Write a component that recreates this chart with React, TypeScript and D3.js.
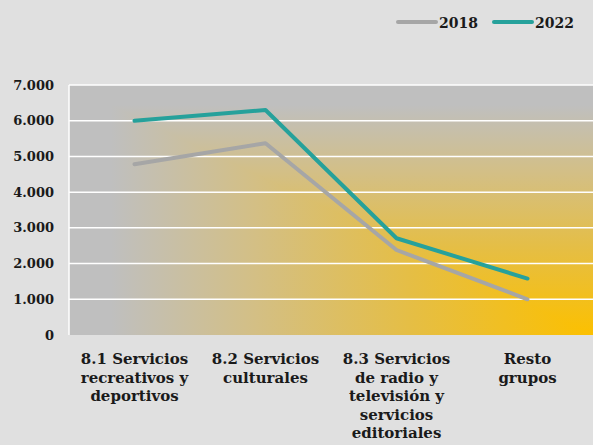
import React from "react";
import * as d3 from "d3";

const categories = [
  ["8.1 Servicios", "recreativos y", "deportivos"],
  ["8.2 Servicios", "culturales"],
  ["8.3 Servicios", "de radio y", "televisión y", "servicios", "editoriales"],
  ["Resto", "grupos"],
];
const series2018 = [4780, 5370, 2380, 1000];
const series2022 = [6000, 6300, 2710, 1580];
const yTicks = [0, 1000, 2000, 3000, 4000, 5000, 6000, 7000];

const W = 593;
const H = 445;
const plot = { left: 69, right: 593, top: 85, bottom: 335 };
const font = "'DejaVu Serif', serif";

const locale = d3.formatLocale({
  decimal: ",",
  thousands: ".",
  grouping: [3],
  currency: ["", "€"],
});
const fmt = locale.format(",d");

const stops = [
  { o: 0, c: "#fcc000" },
  { o: 0.35, c: "#e5be45" },
  { o: 0.65, c: "#d3bf86" },
  { o: 0.92, c: "#bfbfbf" },
  { o: 1, c: "#bfbfbf" },
];

const App = () => {
  const idx = categories.map((_, i) => i);
  const x = d3
    .scalePoint<number>()
    .domain(idx)
    .range([plot.left, plot.right])
    .padding(0.5);
  const y = d3.scaleLinear().domain([0, 7000]).range([plot.bottom, plot.top]);

  const line = d3
    .line<number>()
    .x((_, i) => x(i) as number)
    .y((d) => y(d));

  const series = [
    { name: "2018", values: series2018, color: "#a6a6a6" },
    { name: "2022", values: series2022, color: "#26a19b" },
  ];

  return (
    <svg
      width={W}
      height={H}
      style={{ position: "absolute", left: 0, top: 0 }}
      fontFamily={font}
      fontWeight="bold"
    >
      <defs>
        <linearGradient
          id="gv"
          gradientUnits="userSpaceOnUse"
          x1={0}
          y1={plot.bottom}
          x2={0}
          y2={plot.top}
        >
          {stops.map((s) => (
            <stop key={s.o} offset={s.o} stopColor={s.c} />
          ))}
        </linearGradient>
        <linearGradient
          id="gh"
          gradientUnits="userSpaceOnUse"
          x1={plot.right}
          y1={0}
          x2={plot.left}
          y2={0}
        >
          {stops.map((s) => (
            <stop key={s.o} offset={s.o} stopColor={s.c} />
          ))}
        </linearGradient>
      </defs>
      <rect width={W} height={H} fill="#e0e0e0" />
      {/* corner gradient: vertical on top-right half, horizontal on bottom-left half */}
      <rect
        x={plot.left}
        y={plot.top}
        width={plot.right - plot.left}
        height={plot.bottom - plot.top}
        fill="url(#gv)"
      />
      <polygon
        points={`${plot.left},${plot.top} ${plot.left},${plot.bottom} ${plot.right},${plot.bottom}`}
        fill="url(#gh)"
      />

      {yTicks.slice(1).map((t) => (
        <line
          key={t}
          x1={plot.left}
          x2={plot.right}
          y1={y(t)}
          y2={y(t)}
          stroke="#ffffff"
          strokeWidth={1.5}
        />
      ))}
      <line
        x1={plot.left}
        x2={plot.left}
        y1={plot.top}
        y2={plot.bottom}
        stroke="#ffffff"
        strokeWidth={1.5}
      />

      {yTicks.map((t) => (
        <text
          key={t}
          x={54}
          y={y(t) + 4.5}
          textAnchor="end"
          fontSize={13}
          fill="#1a1a1a"
        >
          {fmt(t)}
        </text>
      ))}

      {categories.map((lines, i) => (
        <text
          key={i}
          x={x(i)}
          textAnchor="middle"
          fontSize={15}
          fill="#1a1a1a"
        >
          {lines.map((l, j) => (
            <tspan key={j} x={x(i)} y={364 + j * 18.5}>
              {l}
            </tspan>
          ))}
        </text>
      ))}

      {series.map((s) => (
        <path
          key={s.name}
          d={line(s.values) || ""}
          fill="none"
          stroke={s.color}
          strokeWidth={4}
          strokeLinejoin="round"
          strokeLinecap="round"
        />
      ))}

      {series.map((s, i) => {
        const lx = 397 + i * 96;
        return (
          <g key={s.name}>
            <line
              x1={lx + 1}
              x2={lx + 39}
              y1={22}
              y2={22}
              stroke={s.color}
              strokeWidth={4}
              strokeLinecap="round"
            />
            <text x={lx + 42} y={27.5} fontSize={14} fill="#1a1a1a">
              {s.name}
            </text>
          </g>
        );
      })}
    </svg>
  );
};

export default App;
